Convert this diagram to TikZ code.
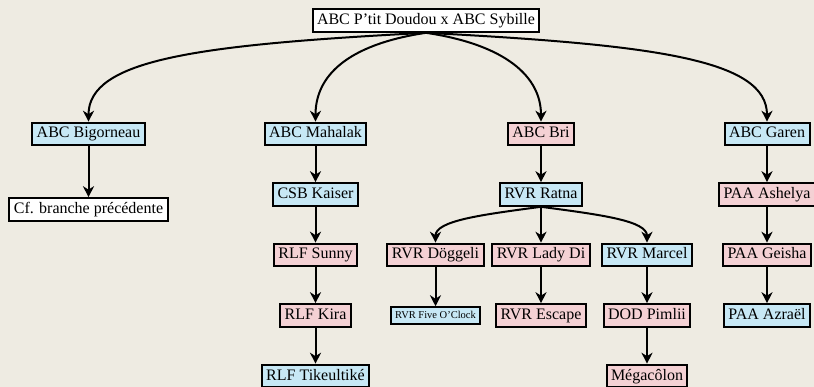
\documentclass[tikz,border=0pt]{standalone}
\usepackage{fontspec}
\setmainfont{Liberation Serif}
\usetikzlibrary{positioning,arrows.meta}
\definecolor{linen}{RGB}{238,235,226}
\definecolor{lightblue}{RGB}{199,232,245}
\definecolor{lightpink}{RGB}{244,209,212}

\begin{document}
\begin{tikzpicture}[
    node distance=60.5pt,
    every node/.style={rectangle, draw=black, line width=2pt, inner xsep=4.5pt, inner ysep=3.3pt, text height=12pt, text depth=4pt, font=\fontsize{16}{19}\selectfont},
    bluebox/.style={fill=lightblue},
    pinkbox/.style={fill=lightpink},
    whitebox/.style={fill=white},
    smallbox/.style={font=\fontsize{10.5}{12}\selectfont, text height=8pt, text depth=2.5pt, inner ysep=3pt},
    arrow/.style={-{Stealth[length=11pt, width=11pt, inset=3.5pt]}, line width=2pt}
]
    \useasboundingbox (0,0) rectangle (814pt,-387pt);
    \fill[linen] (0,0) rectangle (814pt,-387pt);

    \node[whitebox] (root) at (426pt,-20.5pt) {ABC P'tit Doudou x ABC Sybille};

    % first generation
    \node[bluebox, below of=root, xshift=-337.5pt, yshift=-53pt] (bigorneau) {ABC Bigorneau};
    \node[bluebox, below of=root, xshift=-110.5pt, yshift=-53pt] (mahalak) {ABC Mahalak};
    \node[pinkbox, below of=root, xshift=115pt, yshift=-53pt] (bri) {ABC Bri};
    \node[bluebox, below of=root, xshift=341pt, yshift=-53pt] (garen) {ABC Garen};

    \node[whitebox, below of=bigorneau, yshift=-15pt] (cf) {Cf. branche précédente};

    \node[bluebox, below of=mahalak] (kaiser) {CSB Kaiser};
    \node[pinkbox, below of=kaiser] (sunny) {RLF Sunny};
    \node[pinkbox, below of=sunny] (kira) {RLF Kira};
    \node[bluebox, below of=kira] (tikeultike) {RLF Tikeultiké};

    \node[bluebox, below of=bri] (ratna) {RVR Ratna};
    \node[pinkbox, below of=ratna, xshift=-105.5pt] (doggeli) {RVR Döggeli};
    \node[pinkbox, below of=ratna] (ladydi) {RVR Lady Di};
    \node[bluebox, below of=ratna, xshift=106pt] (marcel) {RVR Marcel};
    \node[bluebox, smallbox, below of=doggeli] (fiveoclock) {RVR Five O'Clock};
    \node[pinkbox, below of=ladydi] (escape) {RVR Escape};
    \node[pinkbox, below of=marcel] (pimlii) {DOD Pimlii};
    \node[pinkbox, below of=pimlii] (megacolon) {Mégacôlon};

    \node[pinkbox, below of=garen] (ashelya) {PAA Ashelya};
    \node[pinkbox, below of=ashelya] (geisha) {PAA Geisha};
    \node[bluebox, below of=geisha] (azrael) {PAA Azraël};

    % curved links
    \draw[arrow] (root.south) .. controls +(-230pt,-12pt) and +(0,62pt) .. (bigorneau.north);
    \draw[arrow] (root.south) .. controls +(-80pt,-12pt) and +(0,45pt) .. (mahalak.north);
    \draw[arrow] (root.south) .. controls +(80pt,-12pt) and +(0,45pt) .. (bri.north);
    \draw[arrow] (root.south) .. controls +(230pt,-12pt) and +(0,62pt) .. (garen.north);
    \draw[arrow] (ratna.south) .. controls +(-60pt,-8pt) and +(0,22pt) .. (doggeli.north);
    \draw[arrow] (ratna.south) .. controls +(60pt,-8pt) and +(0,22pt) .. (marcel.north);

    % straight links
    \draw[arrow] (bigorneau) -- (cf);
    \draw[arrow] (mahalak) -- (kaiser);
    \draw[arrow] (kaiser) -- (sunny);
    \draw[arrow] (sunny) -- (kira);
    \draw[arrow] (kira) -- (tikeultike);
    \draw[arrow] (bri) -- (ratna);
    \draw[arrow] (ratna) -- (ladydi);
    \draw[arrow] (doggeli) -- (fiveoclock);
    \draw[arrow] (ladydi) -- (escape);
    \draw[arrow] (marcel) -- (pimlii);
    \draw[arrow] (pimlii) -- (megacolon);
    \draw[arrow] (garen) -- (ashelya);
    \draw[arrow] (ashelya) -- (geisha);
    \draw[arrow] (geisha) -- (azrael);
\end{tikzpicture}
\end{document}
